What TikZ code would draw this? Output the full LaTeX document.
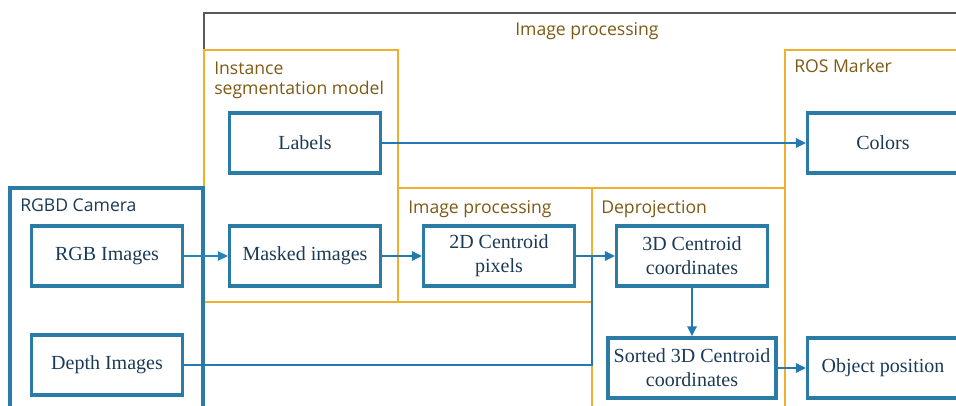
\documentclass[tikz,border=0pt]{standalone}
\usepackage{fontspec}
\setmainfont{Liberation Serif}
\newfontfamily\grpfont{Open Sans}
\usetikzlibrary{arrows.meta, positioning}
\definecolor{boxblue}{HTML}{2A7BA6}
\definecolor{grporange}{HTML}{F2AE2E}
\definecolor{grpbrown}{HTML}{7D5A14}
\definecolor{textnavy}{HTML}{1B3A55}
\definecolor{linkblue}{HTML}{2679B0}

\begin{document}
\begin{tikzpicture}[
    x=0.75pt, y=-0.75pt,
    >={Triangle[length=7.5pt,width=7pt]},
    block/.style={draw=boxblue, line width=2.6pt, minimum width=113pt,
        minimum height=45pt, align=center, text=textnavy, inner sep=2pt,
        font=\fontsize{15}{18}\selectfont},
    group/.style={draw=grporange, line width=0.8pt},
    grptitle/.style={anchor=base west, inner sep=0pt, text=grpbrown, align=left,
        font=\grpfont\fontsize{13.2}{15}\selectfont},
    link/.style={->, draw=linkblue, line width=1.6pt},
]
\useasboundingbox (0,0) rectangle (956,406);
\clip (0,0) rectangle (956,406);

% containers
\draw[gray!70!black, line width=0.8pt] (204,13) rectangle (1000,500);
\node[grptitle] (tall) at (515,36) {Image processing};
\draw[group] (204,50) rectangle (398,302);
\node[grptitle] (tinst) at (214,95) {Instance\\segmentation model};
\draw[group] (398,188) rectangle (592,302);
\node[grptitle] (tproc) at (408,213) {Image processing};
\draw[group] (592,188) rectangle (785,500);
\node[grptitle] (tdeproj) at (601,213) {Deprojection};
\draw[group] (785,50) rectangle (1000,500);
\node[grptitle] (tros) at (794,73) {ROS Marker};
\draw[boxblue, line width=2.6pt] (10,188) rectangle (203,500);
\node[grptitle, text=textnavy] (tcam) at (20,211) {RGBD Camera};

% blocks
\node[block] (labels) at (305,143) {Labels};
\node[block] (colors) at (883,143) {Colors};
\node[block] (rgb) at (107,256) {RGB Images};
\node[block] (masked) at (305,256) {Masked images};
\node[block] (cent2d) at (499,256) {2D Centroid\\pixels};
\node[block] (cent3d) at (692,256) {3D Centroid\\coordinates};
\node[block] (depth) at (107,365) {Depth Images};
\node[block, minimum width=126pt] (sorted) at (692,368) {Sorted 3D Centroid\\coordinates};
\node[block] (objpos) at (883,368) {Object position};

% connectors
\coordinate (join) at (592,256);
\draw[link] (labels) -- (colors);
\draw[link, line width=0.9pt, draw=linkblue!90!cyan] (rgb) -- (masked);
\draw[link] (masked) -- (cent2d);
\draw[link] (cent2d) -- (cent3d);
\draw[linkblue, line width=1.6pt] (depth.east) -| (join);
\draw[link] (cent3d) -- (sorted);
\draw[link] (sorted) -- (objpos);
\end{tikzpicture}
\end{document}
